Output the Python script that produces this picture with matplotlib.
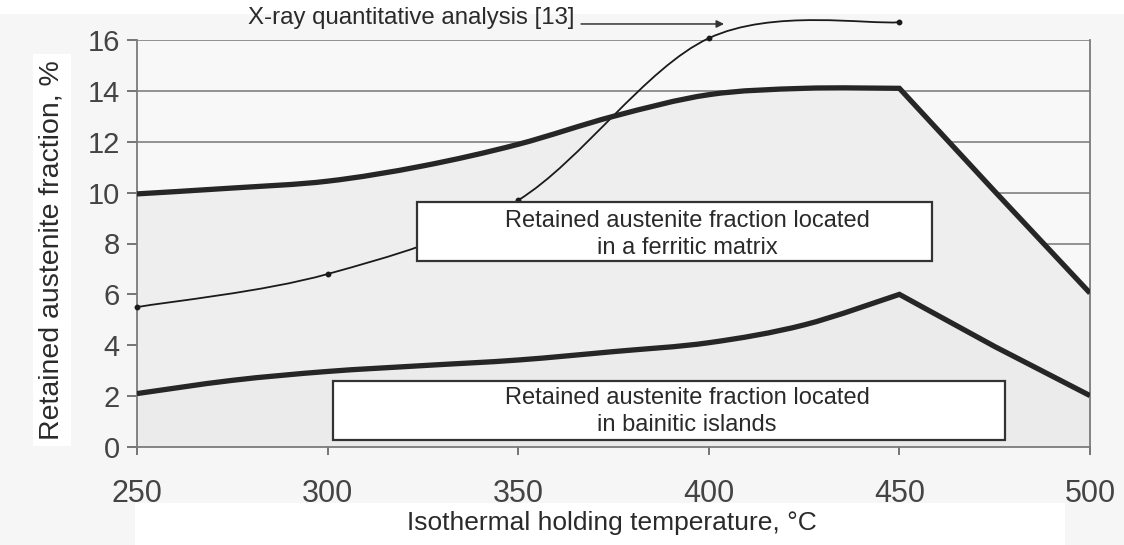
import numpy as np
import matplotlib
matplotlib.use("Agg")
import matplotlib.pyplot as plt
from matplotlib.path import Path
from matplotlib.patches import PathPatch, Rectangle

plt.rcParams['font.family'] = ['Liberation Sans', 'DejaVu Sans']

# data
temp = [250, 275, 300, 325, 350, 375, 400, 425, 450, 475, 500]
ferritic = [9.95, 10.18, 10.45, 11.05, 11.9, 13.0, 13.85, 14.1, 14.1, 10.05, 6.05]
bainitic = [2.1, 2.62, 2.97, 3.2, 3.42, 3.75, 4.1, 4.8, 6.0, 3.95, 2.02]
n_smooth = 9  # smoothed up to 450 C, straight after

xray_temp = [250, 300, 350, 400, 450]
xray = [5.5, 6.8, 9.7, 16.07, 16.7]

xticks = [250, 300, 350, 400, 450, 500]
yticks = [0, 2, 4, 6, 8, 10, 12, 14, 16]

label_ferritic = "Retained austenite fraction located\nin a ferritic matrix"
label_bainitic = "Retained austenite fraction located\nin bainitic islands"
label_xray = "X-ray quantitative analysis [13]"

LINE = '#262626'


def smooth_path(x, y, n):
    # catmull-rom through the first n points as bezier pieces, lines after
    verts = [(x[0], y[0])]
    codes = [Path.MOVETO]
    for i in range(n - 1):
        i0 = max(i - 1, 0)
        i3 = min(i + 2, n - 1)
        c1 = (x[i] + (x[i + 1] - x[i0]) / 6.0, y[i] + (y[i + 1] - y[i0]) / 6.0)
        c2 = (x[i + 1] - (x[i3] - x[i]) / 6.0, y[i + 1] - (y[i3] - y[i]) / 6.0)
        verts += [c1, c2, (x[i + 1], y[i + 1])]
        codes += [Path.CURVE4] * 3
    for i in range(n, len(x)):
        verts.append((x[i], y[i]))
        codes.append(Path.LINETO)
    return verts, codes


def area_path(x, y, n):
    verts, codes = smooth_path(x, y, n)
    verts += [(x[-1], 0), (x[0], 0), (x[0], 0)]
    codes += [Path.LINETO, Path.LINETO, Path.CLOSEPOLY]
    return Path(verts, codes)


fig = plt.figure(figsize=(11.24, 5.45), dpi=100)
fig.patch.set_facecolor('#f6f6f6')
fig.add_artist(Rectangle((0, 1 - 14 / 545), 1, 14 / 545, transform=fig.transFigure,
                         fc='white', ec='none', zorder=-1))
fig.add_artist(Rectangle((135 / 1124, 0), 930 / 1124, 42 / 545, transform=fig.transFigure,
                         fc='white', ec='none', zorder=-1))

ax = fig.add_axes([137 / 1124, (545 - 447) / 545, 953 / 1124, 407 / 545])
ax.set_facecolor('#f8f8f8')
ax.set_xlim(250, 500)
ax.set_ylim(0, 16)
ax.set_axisbelow(True)
ax.yaxis.grid(True, color='#8a8a8a', lw=1.3)

# shaded areas
ax.add_patch(PathPatch(area_path(temp, ferritic, n_smooth), fc='#eeeeee', ec='none', zorder=1))
ax.add_patch(PathPatch(area_path(temp, bainitic, n_smooth), fc='#ebebeb', ec='none', zorder=1.1))

# thick curves
for series in (ferritic, bainitic):
    v, c = smooth_path(temp, series, n_smooth)
    ax.add_patch(PathPatch(Path(v, c), fc='none', ec=LINE, lw=3.8,
                           joinstyle='miter', capstyle='butt', zorder=3))

# x-ray curve
v, c = smooth_path(xray_temp, xray, len(xray_temp))
ax.add_patch(PathPatch(Path(v, c), fc='none', ec='#1a1a1a', lw=1.3, zorder=2.5, clip_on=False))
ax.plot(xray_temp, xray, 'o', color='#1a1a1a', ms=3.2, zorder=2.6, clip_on=False)

# boxes with labels
ax.add_patch(Rectangle((323.4, 7.31), 458.5 - 323.4, 9.63 - 7.31, fc='white', ec='#333333',
                       lw=1.6, zorder=4))
ax.text(394.3, 8.35, label_ferritic, ha='center', va='center', fontsize=17, color='#2a2a2a',
        linespacing=1.3, zorder=5)
ax.add_patch(Rectangle((301.4, 0.28), 477.7 - 301.4, 2.59 - 0.28, fc='white', ec='#333333',
                       lw=1.6, zorder=4))
ax.text(394.3, 1.4, label_bainitic, ha='center', va='center', fontsize=17, color='#2a2a2a',
        linespacing=1.3, zorder=5)

# arrow annotation
ax.annotate('', xy=(404, 16.63), xytext=(366.5, 16.63),
            arrowprops=dict(arrowstyle='-|>', color='#333333', lw=1.1, mutation_scale=11,
                            shrinkA=0, shrinkB=0),
            annotation_clip=False, zorder=5)
ax.text(364.8, 16.86, label_xray, ha='right', va='center', fontsize=17.3, color='#2a2a2a',
        clip_on=False)

# axes styling
for side in ('left', 'bottom', 'right', 'top'):
    ax.spines[side].set_color('#7a7a7a')
    ax.spines[side].set_linewidth(1.3)
ax.spines['top'].set_visible(False)
ax.set_xticks(xticks)
ax.set_yticks(yticks)
ax.tick_params(axis='y', direction='out', length=7.5, width=1.3, color='#6a6a6a',
               labelsize=21, labelcolor='#444444', pad=5)
ax.tick_params(axis='x', direction='out', length=6, width=1.3, color='#6a6a6a',
               labelsize=22, labelcolor='#444444', pad=17)

ax.set_xlabel("Isothermal holding temperature, °C", fontsize=19, color='#2a2a2a', va='center')
ax.xaxis.set_label_coords(0.498, -0.187)
ax.set_ylabel("Retained austenite fraction, %", fontsize=20.5, color='#2a2a2a', va='center',
              bbox=dict(fc='white', ec='none', pad=4))
ax.yaxis.set_label_coords(-0.0892, 0.484)

fig.savefig('out.png', dpi=100, facecolor=fig.get_facecolor())
